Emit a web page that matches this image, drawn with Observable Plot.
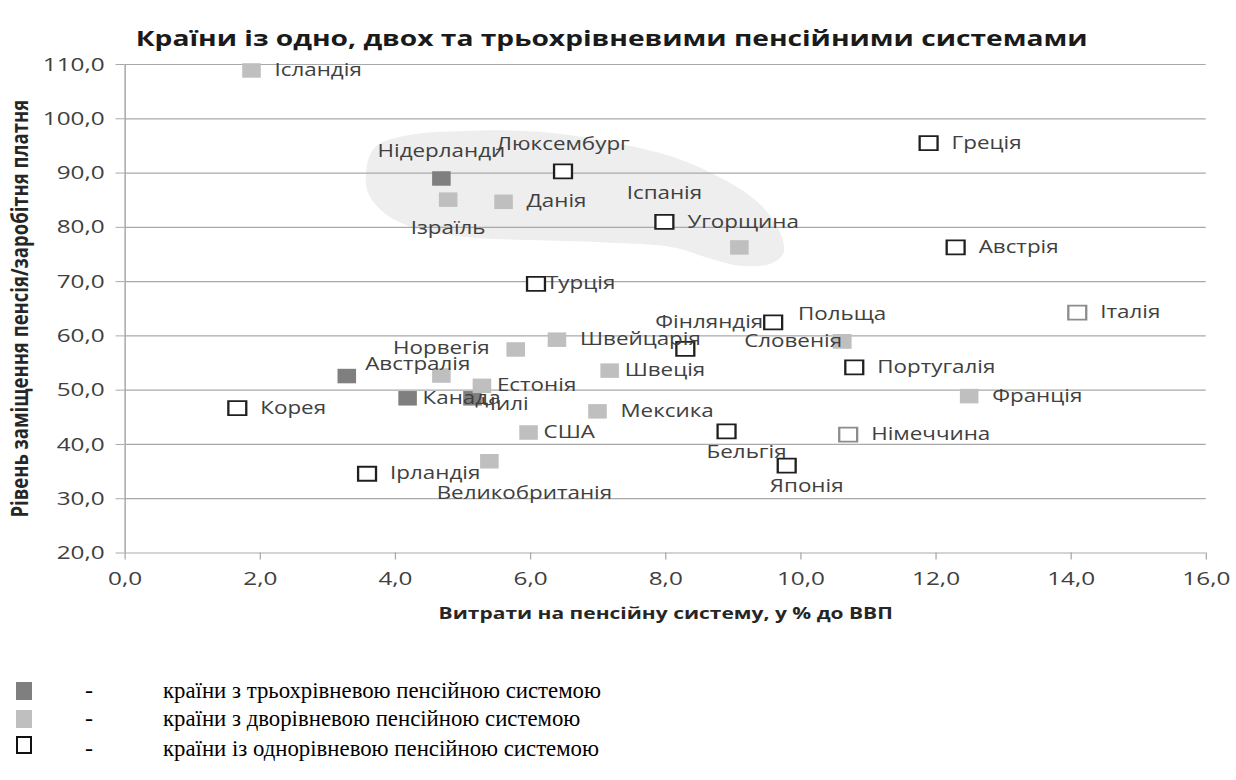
<!DOCTYPE html>
<html>
<head>
<meta charset="utf-8">
<script src="https://cdn.jsdelivr.net/npm/d3@7"></script>
<script src="https://cdn.jsdelivr.net/npm/@observablehq/plot@0.6"></script>
<style>
  html, body { margin: 0; padding: 0; background: #fff; }
  body { width: 1236px; height: 780px; overflow: hidden; position: relative; font-family: "Open Sans", sans-serif; }
  #stretch { position: absolute; left: 0; top: 0; transform-origin: 0 0; }
  #title { height: 52px; box-sizing: border-box; padding-top: 22px; line-height: 30px; text-align: center;
           font-weight: 700; font-size: 22px; color: #1a1a1a; white-space: nowrap; padding-right: 10px; }
  #chart svg { display: block; overflow: visible; }
  .legend-swatch { position: absolute; box-sizing: border-box; }
  .legend-text { position: absolute; font-family: "Liberation Serif", "Times New Roman", serif; font-size: 24px;
                 color: #000; white-space: nowrap; transform-origin: 0 0; line-height: 1; }
</style>
</head>
<body>
<div id="stretch">
  <div id="title"></div>
  <div id="chart"></div>
</div>
<div id="legend"></div>
<script>
// ---------- data ----------
const titleText = "Країни із одно, двох та трьохрівневими пенсійними системами";
const xLabel = "Витрати на пенсійну систему, у % до ВВП";
const yLabel = "Рівень заміщення пенсія/заробітня платня";

const countries = ["Ісландія","Нідерланди","Ізраїль","Данія","Люксембург","Угорщина","Іспанія","Греція","Австрія","Турція",
  "Фінляндія","Польща","Словенія","Італія","Швейцарія","","","Норвегія","Австралія","Естонія",
  "Канада","Чилі","Швеція","Португалія","Франція","Корея","Мексика","США","Бельгія","Німеччина",
  "Великобританія","Ірландія","Японія"];
const spending = [1.87,4.68,4.78,5.60,6.48,7.98,9.09,11.89,12.29,6.08,
  9.59,10.61,10.61,14.09,6.39,8.29,5.78,4.68,3.28,5.28,
  4.18,5.14,7.17,10.79,12.49,1.66,6.99,5.97,8.90,10.70,
  5.39,3.58,9.79];
const replacement = [108.9,89.0,85.1,84.7,90.3,81.0,76.3,95.5,76.3,69.6,
  62.5,59.0,59.0,64.3,59.3,57.6,57.5,52.7,52.6,50.8,
  48.5,48.5,53.6,54.2,48.9,46.7,46.1,42.2,42.4,41.8,
  36.9,34.6,36.1];
// pension system tiers: 3 = three-tier, 2 = two-tier, 1 = one-tier
const tiers = [2,3,2,2,1,1,2,1,1,1,
  1,2,2,1,2,1,2,2,3,2,
  3,3,2,1,2,1,2,2,1,1,
  2,1,1];
const labelPlacement = ["right","top","bottom","right","top","right","farUpperLeft","right","right","rightTight",
  "left","top","leftOverlap","right","right","none","none","top","upperRight","rightNear",
  "rightNear","overlapRight","rightNear","right","right","right","right","rightNear","bottomRight","right",
  "farBottomRight","right","bottomRight"];
const greyOutlined = ["Італія","Німеччина"];

const xTicks = [0,2,4,6,8,10,12,14,16];
const yTicks = [20,30,40,50,60,70,80,90,100,110];

// outline of the shaded highlight region (data coordinates)
const blobX = [3.56,3.70,4.20,5.16,6.15,7.14,8.12,8.86,9.40,9.70,9.74,9.55,9.11,8.62,8.12,7.14,6.15,5.16,4.42,3.93,3.63];
const blobY = [89.2,94.8,97.0,97.8,97.6,95.8,92.9,88.8,84.2,78.8,75.2,73.3,72.9,74.4,76.3,77.2,77.6,78.1,79.4,81.8,85.5];

const legendTiers = [3,2,1];
const legendLabels = ["країни з трьохрівневою пенсійною системою",
  "країни з дворівневою пенсійною системою",
  "країни із однорівневою пенсійною системою"];

// ---------- styling ----------
const STRETCH = 1.28;          // the reference chart is horizontally stretched
const W = 1236 / STRETCH;
const tierFill = {3: "#7f7f7f", 2: "#bfbfbf"};
const placementStyle = {       // offsets in page pixels
  right:          {dx: 23,  dy: 0,   anchor: "start"},
  rightNear:      {dx: 15,  dy: 0,   anchor: "start"},
  rightTight:     {dx: 10,  dy: 0,   anchor: "start"},
  left:           {dx: -10, dy: 0,   anchor: "end"},
  leftOverlap:    {dx: 0,   dy: 0,   anchor: "end"},
  top:            {dx: 0,   dy: -27, anchor: "middle"},
  bottom:         {dx: 0,   dy: 29,  anchor: "middle"},
  bottomRight:    {dx: 20,  dy: 21,  anchor: "middle"},
  farBottomRight: {dx: 35,  dy: 32,  anchor: "middle"},
  upperRight:     {dx: 71,  dy: -12, anchor: "middle"},
  farUpperLeft:   {dx: -75, dy: -54, anchor: "middle"},
  overlapRight:   {dx: 8,   dy: 6,   anchor: "start"}
};
const fmt = d => d.toFixed(1).replace(".", ",");
const gridColor = "#a9a9a9";
const textColor = "#404040";

const data = countries.map((c, i) => ({country: c, x: spending[i], y: replacement[i], tier: tiers[i], place: labelPlacement[i]}));
const blob = blobX.map((x, i) => ({x, y: blobY[i]}));

document.getElementById("stretch").style.width = W + "px";
document.getElementById("stretch").style.transform = `scaleX(${STRETCH})`;
document.getElementById("title").textContent = titleText;

const labelMarks = Object.entries(placementStyle).map(([key, s]) =>
  Plot.text(data.filter(d => d.place === key && d.country), {
    x: "x", y: "y", text: "country", dx: s.dx / STRETCH, dy: s.dy, textAnchor: s.anchor,
    fontSize: 17.5, fill: textColor
  }));

const side = 14.5;
const rFor = s => s / Math.sqrt(Math.PI);

const chart = Plot.plot({
  width: W,
  height: 581,
  marginTop: 12,
  marginBottom: 80.5,
  marginLeft: 124.5 / STRETCH,
  marginRight: 30.3 / STRETCH,
  x: {domain: [0, 16], axis: null},
  y: {domain: [20, 110], axis: null},
  style: {fontFamily: "'Open Sans', sans-serif", background: "transparent", overflow: "visible"},
  marks: [
    Plot.line(blob, {x: "x", y: "y", curve: "catmull-rom-closed", fill: "#eeeeee", stroke: "none"}),
    Plot.gridY(yTicks, {stroke: gridColor, strokeOpacity: 1, strokeWidth: 1.2}),
    Plot.ruleX([0], {stroke: gridColor, strokeWidth: 1.2}),
    Plot.axisY(yTicks, {tickSize: 7, tickPadding: 9, tickFormat: fmt, fontSize: 19, stroke: gridColor, fill: textColor, label: null}),
    Plot.axisX(xTicks, {tickSize: 7, tickPadding: 12, tickFormat: fmt, fontSize: 19, stroke: gridColor, fill: textColor, label: null}),
    Plot.dot(data.filter(d => d.tier === 3), {x: "x", y: "y", symbol: "square", r: rFor(side), fill: tierFill[3], stroke: "none"}),
    Plot.dot(data.filter(d => d.tier === 2), {x: "x", y: "y", symbol: "square", r: rFor(side), fill: tierFill[2], stroke: "none"}),
    Plot.dot(data.filter(d => d.tier === 1 && !greyOutlined.includes(d.country)), {x: "x", y: "y", symbol: "square", r: rFor(14), fill: "white", stroke: "#1f1f1f", strokeWidth: 1.8}),
    Plot.dot(data.filter(d => d.tier === 1 && greyOutlined.includes(d.country)), {x: "x", y: "y", symbol: "square", r: rFor(14), fill: "white", stroke: "#8c8c8c", strokeWidth: 1.8}),
    ...labelMarks,
    Plot.text([xLabel], {text: d => d, frameAnchor: "bottom", lineAnchor: "middle", dy: 60.5, fontWeight: "bold", fontSize: 16.4, fill: "#262626"}),
    Plot.text([yLabel], {text: d => d, frameAnchor: "left", textAnchor: "middle", lineAnchor: "middle", dx: -82, rotate: -90, fontWeight: "bold", fontSize: 18.5, fill: "#262626"})
  ]
});
document.getElementById("chart").appendChild(chart);

// ---------- legend (below the chart) ----------
const legend = document.getElementById("legend");
const swatchTops = [682, 710, 736];
const baselines = [698, 726, 756];
const texts = [];
legendTiers.forEach((t, i) => {
  const sw = document.createElement("div");
  sw.className = "legend-swatch";
  sw.style.left = "16px";
  sw.style.top = swatchTops[i] + "px";
  sw.style.width = "16px";
  sw.style.height = "18px";
  if (t === 1) { sw.style.background = "#fff"; sw.style.border = "2px solid #111"; }
  else sw.style.background = tierFill[t];
  legend.appendChild(sw);

  const dash = document.createElement("div");
  dash.className = "legend-text";
  dash.textContent = "-";
  dash.style.left = "85px";
  dash.style.top = (baselines[i] - 20) + "px";
  legend.appendChild(dash);

  const tx = document.createElement("div");
  tx.className = "legend-text";
  tx.textContent = legendLabels[i];
  tx.style.left = "163px";
  tx.style.top = (baselines[i] - 20) + "px";
  legend.appendChild(tx);
  texts.push(tx);
});
const natural = texts[0].getBoundingClientRect().width;
const k = 438 / natural;
texts.forEach(tx => tx.style.transform = `scaleX(${k})`);
</script>
</body>
</html>
